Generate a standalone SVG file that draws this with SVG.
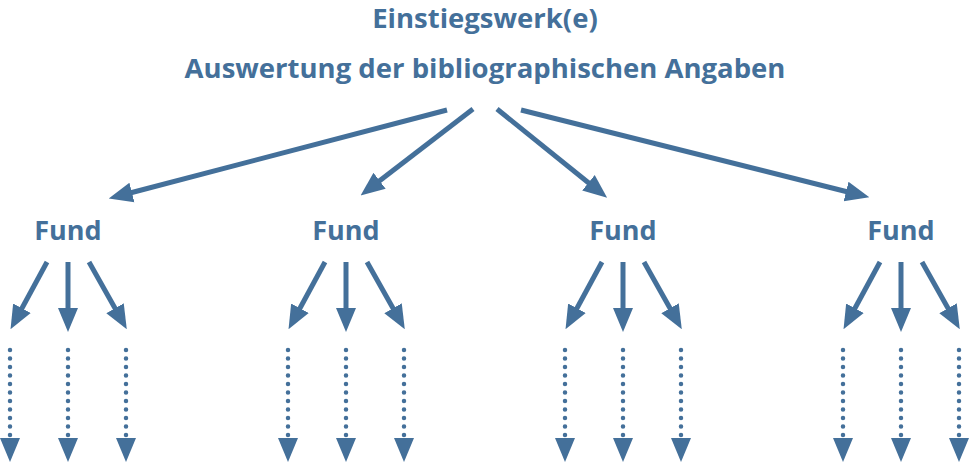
<svg xmlns="http://www.w3.org/2000/svg" width="970" height="463" viewBox="0 0 970 463">
<style>
text{font-family:"Open Sans","Liberation Sans",sans-serif;font-weight:bold;fill:#44709a;text-anchor:middle}
.t{font-size:27.5px}.f{font-size:27px}
.a{stroke:#44709a;stroke-width:5;fill:none;marker-end:url(#h)}
.d{stroke:#44709a;stroke-width:4.5;stroke-dasharray:0 8.5;stroke-linecap:round;fill:none;marker-end:url(#h)}
</style>
<defs>
<marker id="h" markerUnits="userSpaceOnUse" markerWidth="24" markerHeight="24" viewBox="0 0 24 20" refX="2" refY="10" orient="auto"><path d="M0,0L24,10L0,20Z" fill="#44709a"/></marker>
<g id="sub">
<path class="a" d="M47,262L21,310"/>
<path class="a" d="M68,262L68,310"/>
<path class="a" d="M89,262L116,310"/>
<path class="d" d="M10,350L10,440"/>
<path class="d" d="M68,350L68,440"/>
<path class="d" d="M126,350L126,440"/>
</g>
</defs>
<g id="root"><text class="t" x="485" y="28">Einstiegswerk(e)</text><text class="t" x="485" y="78">Auswertung der bibliographischen Angaben</text></g>
<g id="fund1"><text class="f" x="68" y="240">Fund</text></g>
<g id="fund2"><text class="f" x="346" y="240">Fund</text></g>
<g id="fund3"><text class="f" x="623" y="240">Fund</text></g>
<g id="fund4"><text class="f" x="901" y="240">Fund</text></g>
<g id="connectors">
<path class="a" d="M447,110L130,193"/>
<path class="a" d="M473,109L378,182"/>
<path class="a" d="M497,109L590,184"/>
<path class="a" d="M521,110L848,192"/>
<use href="#sub"/>
<use href="#sub" x="278"/>
<use href="#sub" x="555"/>
<use href="#sub" x="833"/>
</g>
</svg>
